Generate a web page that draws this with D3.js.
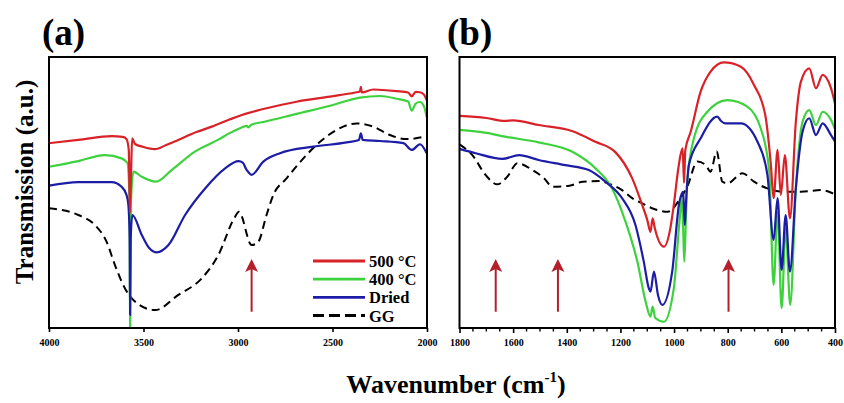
<!DOCTYPE html>
<html><head><meta charset="utf-8">
<script src="https://cdn.jsdelivr.net/npm/d3@7"></script>
<style>
body{margin:0;background:#fff;}
text{font-family:"Liberation Serif","Times New Roman",serif;font-weight:bold;}
</style></head>
<body><svg id="c" width="844" height="403"></svg>
<script>
// ---------- DATA ----------
// Panel (a): wavenumber 4000-2000 cm-1, transmission (a.u.)
const a500 = [[4000,68.2],[3845,69.4],[3668,70.8],[3610,70.5],[3590,69.7],[3578,65.7],[3572,42.4],[3566,56.5],[3560,70.0],[3545,67.9],[3500,66.8],[3439,66.0],[3380,67.5],[3316,69.4],[3220,72.3],[3139,74.3],[3042,77.0],[2980,78.6],[2866,80.8],[2690,83.5],[2513,85.4],[2380,86.9],[2355,87.3],[2350,89.0],[2345,86.9],[2284,88.0],[2160,87.4],[2100,86.9],[2081,85.5],[2060,87.1],[2037,87.0],[2015,86.0],[2002,84.1]];
const a400 = [[4000,59.5],[3845,61.6],[3704,63.8],[3616,62.6],[3585,60.9],[3574,47.2],[3571,-5],[3566,47.2],[3553,57.7],[3509,55.8],[3434,54.0],[3351,58.3],[3228,65.1],[3104,69.5],[3042,72.0],[2980,74.0],[2954,74.6],[2945,74.0],[2930,75.0],[2866,76.0],[2690,79.0],[2513,82.0],[2355,85.0],[2249,85.6],[2160,84.6],[2100,83.6],[2081,80.2],[2060,82.8],[2037,83.4],[2015,81.6],[2002,77.8]];
const aDried = [[4000,52.5],[3845,53.8],[3668,53.8],[3616,52.1],[3590,49.1],[3580,45.4],[3573,32.5],[3571,4.8],[3568,32.5],[3559,41.7],[3509,34.3],[3470,29.5],[3430,27.9],[3368,30.6],[3280,41.7],[3174,51.5],[3068,58.9],[2997,61.6],[2975,61.0],[2954,58.3],[2928,56.5],[2866,61.4],[2778,64.5],[2601,66.9],[2425,68.5],[2360,69.4],[2350,71.8],[2340,69.4],[2249,69.0],[2125,68.2],[2081,65.7],[2037,67.8],[2002,64.5]];
const aGG = [[4000,44.2],[3845,41.7],[3757,38.0],[3695,31.8],[3651,23.2],[3598,14.6],[3544,9.7],[3439,6.6],[3316,12.2],[3192,18.3],[3104,26.9],[3020,40.5],[2995,42.9],[2928,30.6],[2893,31.8],[2849,41.7],[2813,49.1],[2743,55.2],[2654,62.6],[2566,68.7],[2478,73.1],[2372,75.5],[2284,74.3],[2196,71.2],[2107,69.7],[2002,70.8]];
// Panel (b): wavenumber 1800-400 cm-1
const b500 = [[1800,78.3],[1700,77.5],[1630,76.4],[1600,76.6],[1505,74.9],[1381,72.7],[1293,68.7],[1219,64.9],[1156,55.2],[1119,45.4],[1100,39.9],[1088,35.5],[1080,40.5],[1072,36.9],[1038,30.0],[1015,36.2],[1001,45.4],[985,58.3],[976,63.8],[968,66.3],[963,53.6],[958,65.7],[938,72.4],[901,87.2],[864,94.6],[814,98.0],[751,96.4],[702,89.7],[660,78.6],[639,60.1],[629,47.9],[614,65.7],[602,49.1],[587,63.8],[568,40.5],[546,76.1],[527,90.9],[496,95.8],[471,88.5],[446,93.4],[415,88.5],[396,81.1]];
const b400 = [[1800,73.1],[1700,72.0],[1630,70.6],[1505,68.5],[1381,65.1],[1293,58.9],[1231,51.5],[1181,39.2],[1137,24.5],[1106,9.7],[1088,4.2],[1080,7.9],[1070,3.7],[1038,2.3],[1001,14.6],[980,39.2],[971,47.9],[966,36.2],[962,24.5],[956,39.9],[951,54.0],[926,70.0],[876,79.8],[801,84.1],[727,81.7],[677,73.7],[645,57.7],[629,15.9],[614,42.9],[599,7.3],[584,36.8],[567,8.5],[546,51.5],[521,76.1],[496,80.4],[471,74.9],[446,79.8],[415,76.8],[396,72.4]];
const bDried = [[1800,66.1],[1740,64.5],[1640,62.4],[1578,63.8],[1505,62.0],[1405,60.1],[1318,58.3],[1256,54.0],[1194,47.9],[1144,38.0],[1113,24.5],[1094,14.6],[1088,13.4],[1075,20.8],[1060,12.2],[1044,8.5],[1007,20.8],[982,45.4],[966,50.3],[960,38.0],[955,47.2],[945,60.1],[901,70.0],[839,78.0],[825,76.4],[808,75.5],[751,75.5],[689,68.7],[652,56.5],[629,32.5],[614,47.9],[599,21.4],[584,41.7],[568,20.8],[546,51.5],[521,72.4],[496,77.4],[471,71.2],[446,75.5],[415,71.2],[396,68.2]];
const bGG = [[1800,67.8],[1752,63.8],[1703,56.5],[1659,53.0],[1622,55.8],[1584,60.8],[1528,58.3],[1484,55.2],[1453,52.1],[1390,52.5],[1340,54.0],[1278,54.2],[1231,52.8],[1194,50.9],[1156,47.9],[1119,46.0],[1082,44.2],[1023,42.9],[985,46.6],[951,52.1],[913,61.4],[882,60.1],[864,57.7],[841,65.1],[820,54.0],[801,53.4],[745,57.1],[702,54.0],[652,51.5],[590,50.3],[527,50.3],[452,50.9],[396,49.1]];

const seriesNames = ["500 °C","400 °C","Dried","GG"];
const ticksA = [4000,3500,3000,2500,2000];
const ticksB = [1800,1600,1400,1200,1000,800,600,400];
const arrowsA = [2928];
const arrowsB = [1665,1433,797];
const arrowBase = 6.0, arrowTip = 25.5;

// ---------- STYLE ----------
const colors = {"500":"#d92128","400":"#3dd23d","Dried":"#1c1ca6","GG":"#000"};
const arrowColor = "#b3202a";

const svg = d3.select("#c");
const y = d3.scaleLinear().domain([0,100]).range([328,57]);

function panel(id, x0, x1, domain, data, ticks, minorStep, majorLen, arrows, title, titleX){
  const x = d3.scaleLinear().domain(domain).range([x0,x1]);
  const g = svg.append("g");
  svg.append("defs").append("clipPath").attr("id","clip"+id)
    .append("rect").attr("x",x0).attr("y",57).attr("width",x1-x0).attr("height",271);
  const line = d3.line().x(d=>x(d[0])).y(d=>y(d[1])).curve(d3.curveMonotoneX);
  const lg = g.append("g").attr("clip-path","url(#clip"+id+")");
  lg.append("path").datum(data.GG).attr("d",line).attr("fill","none")
    .attr("stroke",colors.GG).attr("stroke-width",2).attr("stroke-dasharray","8,5");
  lg.append("path").datum(data.s400).attr("d",line).attr("fill","none")
    .attr("stroke",colors["400"]).attr("stroke-width",2.2);
  lg.append("path").datum(data.dried).attr("d",line).attr("fill","none")
    .attr("stroke",colors.Dried).attr("stroke-width",2.2);
  lg.append("path").datum(data.s500).attr("d",line).attr("fill","none")
    .attr("stroke",colors["500"]).attr("stroke-width",2.2);
  arrows.forEach(w=>{
    const ax = x(w), yb = y(arrowBase), yt = y(arrowTip);
    g.append("line").attr("x1",ax).attr("x2",ax).attr("y1",yb).attr("y2",yt+9)
      .attr("stroke",arrowColor).attr("stroke-width",2);
    g.append("path").attr("d",`M${ax},${yt} L${ax-6.5},${yt+13} L${ax},${yt+10} L${ax+6.5},${yt+13} Z`)
      .attr("fill",arrowColor);
  });
  g.append("rect").attr("x",x0).attr("y",57).attr("width",x1-x0).attr("height",271)
    .attr("fill","none").attr("stroke","#000").attr("stroke-width",2);
  const axis = d3.axisBottom(x).tickValues(ticks).tickSize(majorLen).tickFormat(d3.format("d"));
  const ag = g.append("g").attr("transform","translate(0,328)").call(axis);
  ag.select(".domain").remove();
  ag.selectAll(".tick line").attr("stroke","#000").attr("stroke-width",1.6);
  ag.selectAll(".tick text").attr("font-size",10).attr("font-weight","bold")
    .attr("font-family","Liberation Serif, serif").attr("fill","#000").attr("y",11);
  if(minorStep){
    const minors = d3.range(domain[1], domain[0]+1, minorStep).filter(v=>!ticks.includes(v));
    const mg = g.append("g").attr("transform","translate(0,328)");
    mg.selectAll("line").data(minors).join("line")
      .attr("x1",d=>x(d)).attr("x2",d=>x(d)).attr("y1",0).attr("y2",3.5)
      .attr("stroke","#000").attr("stroke-width",1.4);
  }
  svg.append("text").attr("x",titleX).attr("y",45).attr("font-size",37).text(title);
  return x;
}

panel("a",49,427,[4000,2000],{s500:a500,s400:a400,dried:aDried,GG:aGG},ticksA,0,4,arrowsA,"(a)",42);
panel("b",459.5,835,[1800,400],{s500:b500,s400:b400,dried:bDried,GG:bGG},ticksB,50,5,arrowsB,"(b)",447);

// legend (panel a)
const legY = [261,279.2,297.4,315.6];
const legKeys = ["500","400","Dried","GG"];
const leg = svg.append("g");
legKeys.forEach((k,i)=>{
  leg.append("line").attr("x1",313).attr("x2",365).attr("y1",legY[i]).attr("y2",legY[i])
    .attr("stroke",colors[k]).attr("stroke-width",k==="GG"?3:2.8)
    .attr("stroke-dasharray",k==="GG"?"11,5":null);
  leg.append("text").attr("x",369).attr("y",legY[i]+6).attr("font-size",16.5).text(seriesNames[i]);
});

// axis titles
svg.append("text").attr("transform","translate(33,182) rotate(-90)")
  .attr("text-anchor","middle").attr("font-size",25).text("Transmission (a.u.)");
const xl = svg.append("text").attr("x",456).attr("y",393).attr("text-anchor","middle").attr("font-size",26);
xl.append("tspan").text("Wavenumber (cm");
xl.append("tspan").attr("font-size",15).attr("dy",-11).text("-1");
xl.append("tspan").attr("dy",11).text(")");
</script></body></html>
